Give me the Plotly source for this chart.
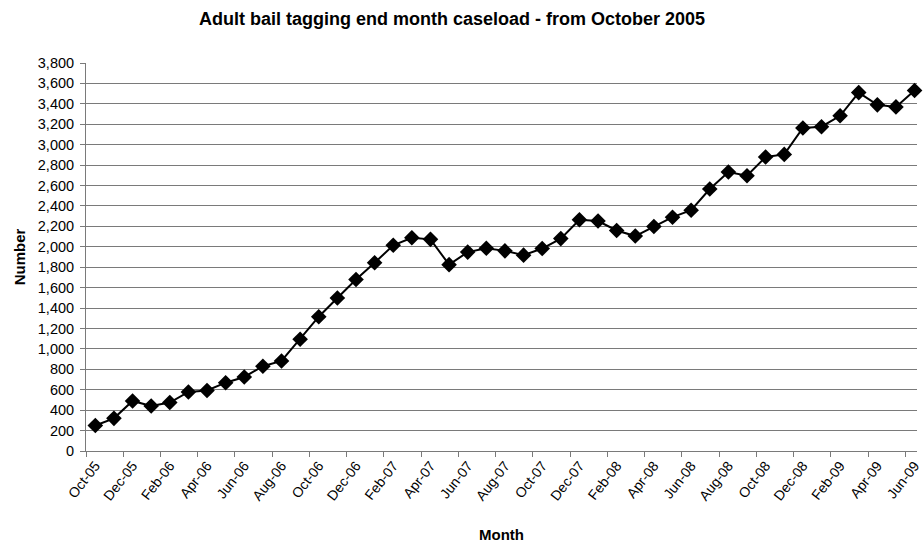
import plotly.graph_objects as go

# Month labels, October 2005 to June 2009
months = [
    "Oct-05", "Nov-05", "Dec-05",
    "Jan-06", "Feb-06", "Mar-06", "Apr-06", "May-06", "Jun-06",
    "Jul-06", "Aug-06", "Sep-06", "Oct-06", "Nov-06", "Dec-06",
    "Jan-07", "Feb-07", "Mar-07", "Apr-07", "May-07", "Jun-07",
    "Jul-07", "Aug-07", "Sep-07", "Oct-07", "Nov-07", "Dec-07",
    "Jan-08", "Feb-08", "Mar-08", "Apr-08", "May-08", "Jun-08",
    "Jul-08", "Aug-08", "Sep-08", "Oct-08", "Nov-08", "Dec-08",
    "Jan-09", "Feb-09", "Mar-09", "Apr-09", "May-09", "Jun-09",
]

# End-of-month caseload
caseload = [
    250, 320, 490,
    440, 475, 578, 593, 669, 725,
    830, 882, 1094, 1315, 1498, 1679,
    1843, 2015, 2088, 2073, 1825, 1948,
    1986, 1960, 1918, 1983, 2080, 2265,
    2252, 2160, 2105, 2198, 2290, 2358,
    2566, 2732, 2696, 2879, 2905, 3164,
    3176, 3283, 3510, 3390, 3370, 3530,
]

y_ticks = list(range(0, 3801, 200))

x_idx = list(range(len(months)))
label_idx = x_idx[::2]
label_text = months[::2]
boundary_ticks = [i - 0.5 for i in label_idx]

FONT = "Liberation Sans, Arial, sans-serif"
GRID = "#7a7a7a"

fig = go.Figure(
    go.Scatter(
        x=x_idx,
        y=caseload,
        mode="lines+markers",
        line=dict(color="black", width=2),
        marker=dict(symbol="diamond", size=12, color="black"),
        hoverinfo="skip",
        cliponaxis=False,
    )
)

fig.update_layout(
    width=923,
    height=544,
    margin=dict(l=86, r=0, t=63, b=93),
    paper_bgcolor="white",
    plot_bgcolor="white",
    showlegend=False,
    font=dict(family=FONT, color="black", size=14),
    title=dict(
        text="<b>Adult bail tagging end month caseload - from October 2005</b>",
        x=452 / 923,
        xanchor="center",
        y=1 - 19 / 544,
        yanchor="middle",
        font=dict(family=FONT, size=18, color="black"),
    ),
)

fig.update_xaxes(
    range=[-0.5, 44.13],
    tickmode="array",
    tickvals=label_idx,
    ticktext=label_text,
    tickangle=-52,
    ticks="",
    ticklabeloverflow="allow",
    tickfont=dict(family=FONT, size=14, color="black"),
    showgrid=False,
    zeroline=False,
    showline=True,
    linecolor=GRID,
    linewidth=1,
    minor=dict(
        tickmode="array",
        tickvals=boundary_ticks,
        ticks="outside",
        ticklen=5,
        tickcolor=GRID,
        showgrid=False,
    ),
    title=dict(
        text="<b>Month</b>",
        font=dict(family=FONT, size=15, color="black"),
        standoff=26,
    ),
)

fig.update_yaxes(
    range=[0, 3800],
    tickmode="array",
    tickvals=y_ticks,
    tickformat=",d",
    ticks="outside",
    ticklen=5,
    tickcolor=GRID,
    ticklabelstandoff=3,
    tickfont=dict(family=FONT, size=14.5, color="black"),
    showgrid=True,
    gridcolor=GRID,
    gridwidth=1,
    zeroline=False,
    showline=True,
    linecolor=GRID,
    linewidth=1,
    title=dict(
        text="<b>Number</b>",
        font=dict(family=FONT, size=15, color="black"),
        standoff=8,
    ),
)

fig.write_html("out.html")
